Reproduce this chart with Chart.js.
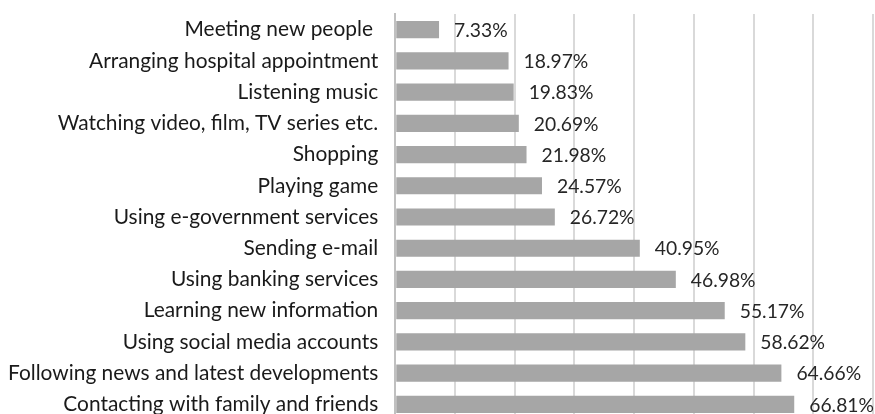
<!DOCTYPE html>
<html>
<head>
<meta charset="utf-8">
<script src="https://cdn.jsdelivr.net/npm/chart.js@4/dist/chart.umd.min.js"></script>
<style>
  html, body { margin: 0; padding: 0; background: #fff; overflow: hidden; }
  #wrap { width: 875px; height: 420px; position: relative; }
</style>
</head>
<body>
<div id="wrap"><canvas id="usageChart"></canvas></div>
<script>
var activities = [
    "Meeting new people ",
    "Arranging hospital appointment",
    "Listening music",
    "Watching video, film, TV series etc.",
    "Shopping",
    "Playing game",
    "Using e-government services",
    "Sending e-mail",
    "Using banking services",
    "Learning new information",
    "Using social media accounts",
    "Following news and latest developments",
    "Contacting with family and friends"
];

var shares = [7.33, 18.97, 19.83, 20.69, 21.98, 24.57, 26.72, 40.95, 46.98, 55.17, 58.62, 64.66, 66.81];

var axisMax = 80;
var axisStep = 10;

var labelFont = "Lato";
var labelSize = 20.9;
var valueSize = 19.3;

// draws the "xx.xx%" text just past the end of each bar
var barLabels = {
    id: "barLabels",
    afterDatasetsDraw: function (chart) {
        var ctx = chart.ctx;
        var meta = chart.getDatasetMeta(0);
        ctx.save();
        ctx.font = valueSize + "px " + labelFont;
        ctx.fillStyle = "#262626";
        ctx.textAlign = "left";
        ctx.textBaseline = "middle";
        meta.data.forEach(function (bar, i) {
            ctx.fillText(shares[i].toFixed(2) + "%", bar.x + 15, bar.y + 1);
        });
        ctx.restore();
    }
};

function drawChart() {
    var usageCanvas = document.getElementById("usageChart");

    var usageChart = new Chart(usageCanvas, {
        type: "bar",
        data: {
            labels: activities,
            datasets: [{
                data: shares,
                backgroundColor: "#a6a6a6",
                borderWidth: 0,
                categoryPercentage: 0.55,
                barPercentage: 1
            }]
        },
        options: {
            indexAxis: "y",
            responsive: true,
            maintainAspectRatio: false,
            animation: false,
            layout: { padding: { top: 14, right: 2, left: 8, bottom: 0 } },
            plugins: {
                legend: { display: false },
                tooltip: { enabled: false }
            },
            scales: {
                x: {
                    min: 0,
                    max: axisMax,
                    ticks: { display: false, stepSize: axisStep },
                    grid: { color: "#d9d9d9", lineWidth: 2, drawTicks: false },
                    border: { display: false },
                    afterFit: function (scale) { scale.height = 0; }
                },
                y: {
                    ticks: {
                        color: "#1a1a1a",
                        font: { family: labelFont, size: labelSize },
                        padding: 17
                    },
                    grid: { display: false, drawTicks: false },
                    border: { display: true, color: "#c0c0c0", width: 2 },
                    // labels may hang over the plot ends, as in the original;
                    // and drop the spare gap chart.js leaves left of the labels
                    afterFit: function (scale) {
                        scale.paddingTop = 0;
                        scale.paddingBottom = 0;
                        scale.width -= 17;
                    }
                }
            }
        },
        plugins: [barLabels]
    });
}

// measure labels with the real font, not the fallback
Promise.all([
    document.fonts.load(labelSize + "px " + labelFont),
    document.fonts.load(valueSize + "px " + labelFont)
]).then(drawChart, drawChart);
</script>
</body>
</html>
